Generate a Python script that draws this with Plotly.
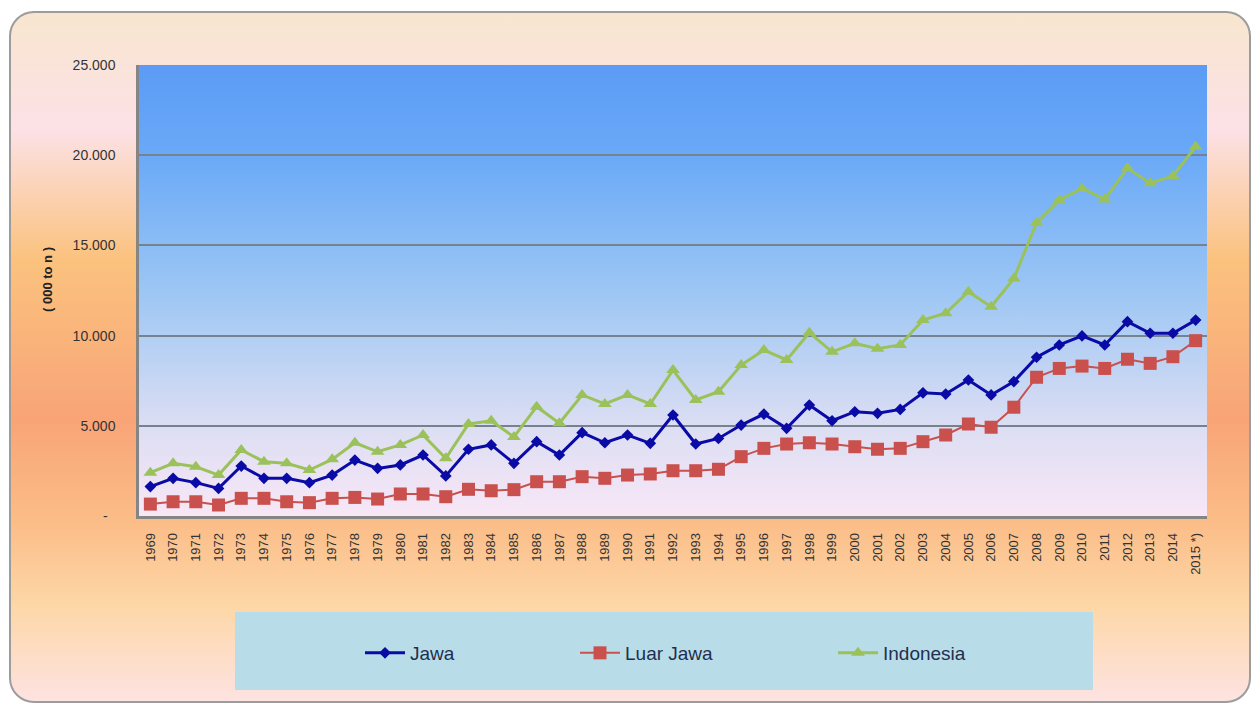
import base64
import plotly.graph_objects as go

years = [str(y) for y in range(1969, 2015)] + ["2015 *)"]

jawa = [1630, 2090, 1850, 1530, 2770, 2090, 2090, 1850, 2270, 3100, 2640, 2830, 3380, 2220, 3700, 3940,
        2920, 4120, 3380, 4620, 4060, 4490, 4030, 5600, 3990, 4300, 5040, 5650, 4860, 6150, 5280,
        5780, 5690, 5910, 6830, 6760, 7540, 6710, 7450, 8800, 9480, 9980, 9480, 10770, 10130, 10130, 10860]

luar_jawa = [660, 790, 790, 610, 980, 980, 790, 740, 980, 1030, 940, 1220, 1220, 1070, 1480, 1400,
             1460, 1900, 1900, 2180, 2090, 2270, 2330, 2510, 2510, 2590, 3290, 3750, 3990, 4060, 3990,
             3840, 3700, 3750, 4120, 4490, 5100, 4920, 6030, 7690, 8180, 8310, 8180, 8690, 8460, 8830, 9720]

indonesia = [2400, 2920, 2730, 2270, 3660, 3010, 2920, 2550, 3140, 4060, 3560, 3940, 4490, 3200, 5100, 5280,
             4380, 6060, 5140, 6710, 6210, 6710, 6210, 8090, 6430, 6890, 8370, 9200, 8650, 10160, 9100,
             9570, 9270, 9480, 10860, 11240, 12430, 11600, 13170, 16260, 17520, 18160, 17550, 19280, 18450, 18850, 20470]

y_ticks = [0, 5000, 10000, 15000, 20000, 25000]
y_tick_text = ["-\u2007", "5.000", "10.000", "15.000", "20.000", "25.000"]

W, H = 1260, 706
L, R, T, B = 139, 53, 65, 190
pw, ph = W - L - R, H - T - B

outer_svg = f'''<svg xmlns="http://www.w3.org/2000/svg" width="{W}" height="{H}" viewBox="0 0 {W} {H}">
<defs><linearGradient id="g" x1="0" y1="0" x2="0" y2="1">
<stop offset="0" stop-color="#f8e6cf"/>
<stop offset="0.17" stop-color="#fce1e6"/>
<stop offset="0.36" stop-color="#fbc27e"/>
<stop offset="0.59" stop-color="#f8a477"/>
<stop offset="0.74" stop-color="#fbbd88"/>
<stop offset="0.86" stop-color="#fdd7a7"/>
<stop offset="1" stop-color="#fde3e2"/>
</linearGradient></defs>
<rect x="10" y="12" width="1240" height="690" rx="24" ry="24" fill="url(#g)" stroke="#9c9c9c" stroke-width="2"/>
</svg>'''

plot_svg = '''<svg xmlns="http://www.w3.org/2000/svg" width="100" height="100" viewBox="0 0 100 100" preserveAspectRatio="none">
<defs><linearGradient id="p" x1="0" y1="0" x2="0" y2="1">
<stop offset="0" stop-color="#5b9bf5"/>
<stop offset="0.2" stop-color="#6aa9f7"/>
<stop offset="0.5" stop-color="#9cc6f4"/>
<stop offset="0.8" stop-color="#dcdef3"/>
<stop offset="1" stop-color="#f8e7f6"/>
</linearGradient></defs>
<rect x="0" y="0" width="100" height="100" fill="url(#p)"/>
</svg>'''


def uri(s):
    return "data:image/svg+xml;base64," + base64.b64encode(s.encode()).decode()


def px_x(p):
    return (p - L) / pw


def px_y(p):
    return (T + ph - p) / ph


fig = go.Figure()
fig.add_trace(go.Scatter(x=years, y=jawa, name="Jawa", mode="lines+markers", legend="legend",
                         line=dict(color="#0a0aa6", width=3),
                         marker=dict(symbol="diamond", size=9, color="#0a0aa6")))
fig.add_trace(go.Scatter(x=years, y=luar_jawa, name="Luar Jawa", mode="lines+markers", legend="legend2",
                         line=dict(color="#c9504d", width=2),
                         marker=dict(symbol="square", size=13, color="#c9504d")))
fig.add_trace(go.Scatter(x=years, y=indonesia, name="Indonesia", mode="lines+markers", legend="legend3",
                         line=dict(color="#9bc15a", width=3),
                         marker=dict(symbol="triangle-up", size=12, color="#9bc15a")))

fig.add_layout_image(dict(source=uri(outer_svg), xref="paper", yref="paper",
                          x=px_x(0), y=px_y(0), sizex=W / pw, sizey=H / ph,
                          xanchor="left", yanchor="top", sizing="stretch", layer="below"))
fig.add_layout_image(dict(source=uri(plot_svg), xref="paper", yref="paper",
                          x=0, y=1, sizex=1, sizey=1,
                          xanchor="left", yanchor="top", sizing="stretch", layer="below"))

# legend box
fig.add_shape(type="rect", xref="paper", yref="paper",
              x0=px_x(235), x1=px_x(1093), y0=px_y(690), y1=px_y(612),
              fillcolor="#b8dde9", line=dict(width=0), layer="below")

fig.add_annotation(text="<b>( 000 to n )</b>", xref="paper", yref="paper",
                   x=px_x(47), y=px_y(280), xanchor="center", yanchor="middle",
                   textangle=-90, showarrow=False,
                   font=dict(size=13, color="#222222", family="Liberation Sans"))

leg_font = dict(size=19, color="#1f2f4f", family="Liberation Sans")


def leg(xpx):
    return dict(orientation="h", x=px_x(xpx), y=px_y(653), xanchor="left", yanchor="middle",
                bgcolor="rgba(0,0,0,0)", borderwidth=0, itemwidth=40, font=leg_font)


fig.update_layout(
    width=W, height=H,
    margin=dict(l=L, r=R, t=T, b=B),
    paper_bgcolor="white",
    plot_bgcolor="rgba(0,0,0,0)",
    font=dict(family="Liberation Sans", color="#333333"),
    showlegend=True,
    legend=leg(360),
    legend2=leg(575),
    legend3=leg(833),
    xaxis=dict(type="category", range=[-0.5, len(years) - 0.5], tickangle=-90,
               showgrid=False, showline=True, linecolor="#858585", linewidth=2.5,
               ticks="", tickfont=dict(size=13, color="#333333"), ticklabelstandoff=9),
    yaxis=dict(range=[0, 25000], tickvals=y_ticks, ticktext=y_tick_text,
               showgrid=True, gridcolor="#77828f", gridwidth=1.6, zeroline=False,
               showline=True, linecolor="#858585", linewidth=2.5,
               ticks="", tickfont=dict(size=14, color="#333333"), ticklabelstandoff=18),
)

fig.write_html("out.html")
